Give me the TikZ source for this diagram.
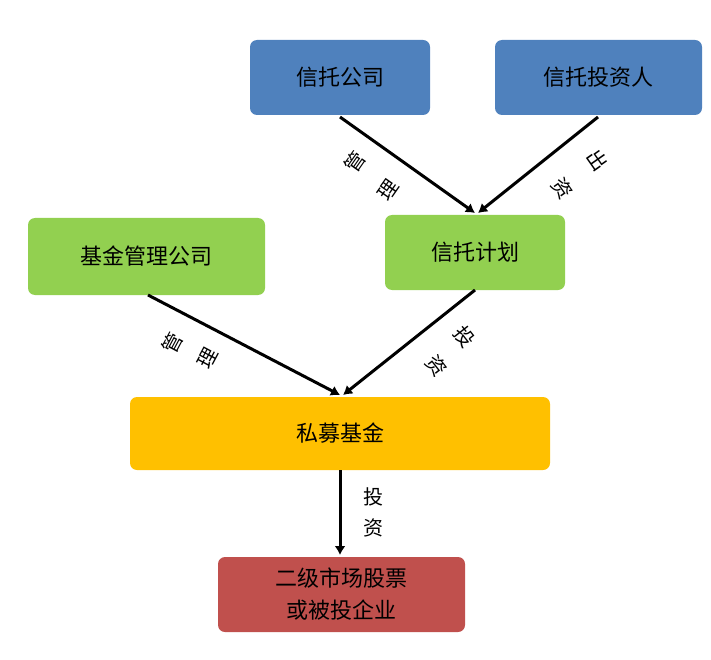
\documentclass[tikz,border=0pt]{standalone}
\usepackage{fontspec}
\setmainfont{Noto Sans CJK SC}
\begin{document}
\begin{tikzpicture}[x=1pt,y=-1pt,
  box/.style={rounded corners=7pt,draw=none,text=black,font=\fontsize{22}{26}\selectfont},
  arr/.style={line width=3pt,-{Latex[length=9pt,width=11pt]}},
  lab/.style={font=\fontsize{20}{20}\selectfont,inner sep=0pt}]
\usetikzlibrary{arrows.meta}
\useasboundingbox (0,0) rectangle (711,660);
\definecolor{bl}{HTML}{4F81BD}\definecolor{gr}{HTML}{92D050}
\definecolor{og}{HTML}{FFC000}\definecolor{rd}{HTML}{C0504D}
\fill[bl,rounded corners=7pt] (250,40) rectangle (430,115);
\node[box] (a) at (340,77.5) {信托公司};
\fill[bl,rounded corners=7pt] (495,40) rectangle (702,115);
\node[box] (b) at (598.5,77.5) {信托投资人};
\fill[gr,rounded corners=7pt] (385,215) rectangle (565,290);
\node[box] (c) at (475,252.5) {信托计划};
\fill[gr,rounded corners=7pt] (28,218) rectangle (265,295);
\node[box] (d) at (146.5,256.5) {基金管理公司};
\fill[og,rounded corners=7pt] (130,397) rectangle (550,470);
\node[box] (e) at (340,433.5) {私募基金};
\fill[rd,rounded corners=7pt] (218,557) rectangle (465,632);
\node[box,align=center,font=\fontsize{22}{32}\selectfont] (f) at (341.5,594.5) {二级市场股票\\或被投企业};
\coordinate (a1) at (340,117); \coordinate (c1) at (475,213);
\coordinate (b1) at (598,117); \coordinate (c2) at (478,213);
\coordinate (d1) at (148,295); \coordinate (e1) at (340,395);
\coordinate (c3) at (475,290); \coordinate (e2) at (343,395);
\coordinate (e3) at (340,470); \coordinate (f1) at (340,555);
\draw[arr] (a1) -- (c1);
\draw[arr] (b1) -- (c2);
\draw[arr] (d1) -- (e1);
\draw[arr] (c3) -- (e2);
\draw[arr] (e3) -- (f1);
\node[lab,rotate=55] (l1) at (355,162) {管};
\node[lab,rotate=55] (l2) at (388,190) {理};
\node[lab,rotate=-55] (l3) at (597,160) {出};
\node[lab,rotate=-55] (l4) at (562,188) {资};
\node[lab,rotate=62] (l5) at (172,343) {管};
\node[lab,rotate=62] (l6) at (208,358) {理};
\node[lab,rotate=-52] (l7) at (465,337) {投};
\node[lab,rotate=-52] (l8) at (437,366) {资};
\node[lab] (l9) at (373,497) {投};
\node[lab] (l10) at (373,528) {资};
\end{tikzpicture}
\end{document}
